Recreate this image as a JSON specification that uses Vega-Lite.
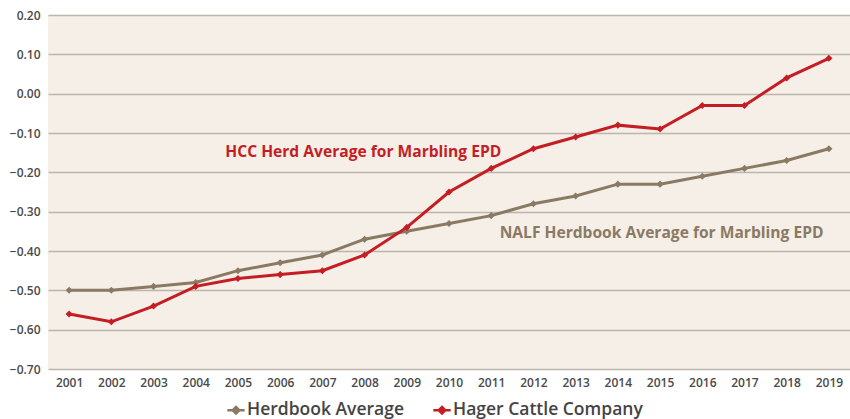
{
  "$schema": "https://vega.github.io/schema/vega-lite/v6.json",
  "width": 802,
  "height": 354,
  "autosize": {"type": "none"},
  "padding": {"left": 48, "top": 15, "right": 0, "bottom": 50},
  "background": "#ffffff",
  "config": {
    "view": {"fill": "#F5EFE8", "stroke": null},
    "font": "Open Sans"
  },
  "layer": [
    {
      "data": {
        "values": [
          {"year": 2001, "series": "Herdbook Average", "value": -0.50},
          {"year": 2002, "series": "Herdbook Average", "value": -0.50},
          {"year": 2003, "series": "Herdbook Average", "value": -0.49},
          {"year": 2004, "series": "Herdbook Average", "value": -0.48},
          {"year": 2005, "series": "Herdbook Average", "value": -0.45},
          {"year": 2006, "series": "Herdbook Average", "value": -0.43},
          {"year": 2007, "series": "Herdbook Average", "value": -0.41},
          {"year": 2008, "series": "Herdbook Average", "value": -0.37},
          {"year": 2009, "series": "Herdbook Average", "value": -0.35},
          {"year": 2010, "series": "Herdbook Average", "value": -0.33},
          {"year": 2011, "series": "Herdbook Average", "value": -0.31},
          {"year": 2012, "series": "Herdbook Average", "value": -0.28},
          {"year": 2013, "series": "Herdbook Average", "value": -0.26},
          {"year": 2014, "series": "Herdbook Average", "value": -0.23},
          {"year": 2015, "series": "Herdbook Average", "value": -0.23},
          {"year": 2016, "series": "Herdbook Average", "value": -0.21},
          {"year": 2017, "series": "Herdbook Average", "value": -0.19},
          {"year": 2018, "series": "Herdbook Average", "value": -0.17},
          {"year": 2019, "series": "Herdbook Average", "value": -0.14},
          {"year": 2001, "series": "Hager Cattle Company", "value": -0.56},
          {"year": 2002, "series": "Hager Cattle Company", "value": -0.58},
          {"year": 2003, "series": "Hager Cattle Company", "value": -0.54},
          {"year": 2004, "series": "Hager Cattle Company", "value": -0.49},
          {"year": 2005, "series": "Hager Cattle Company", "value": -0.47},
          {"year": 2006, "series": "Hager Cattle Company", "value": -0.46},
          {"year": 2007, "series": "Hager Cattle Company", "value": -0.45},
          {"year": 2008, "series": "Hager Cattle Company", "value": -0.41},
          {"year": 2009, "series": "Hager Cattle Company", "value": -0.34},
          {"year": 2010, "series": "Hager Cattle Company", "value": -0.25},
          {"year": 2011, "series": "Hager Cattle Company", "value": -0.19},
          {"year": 2012, "series": "Hager Cattle Company", "value": -0.14},
          {"year": 2013, "series": "Hager Cattle Company", "value": -0.11},
          {"year": 2014, "series": "Hager Cattle Company", "value": -0.08},
          {"year": 2015, "series": "Hager Cattle Company", "value": -0.09},
          {"year": 2016, "series": "Hager Cattle Company", "value": -0.03},
          {"year": 2017, "series": "Hager Cattle Company", "value": -0.03},
          {"year": 2018, "series": "Hager Cattle Company", "value": 0.04},
          {"year": 2019, "series": "Hager Cattle Company", "value": 0.09}
        ]
      },
      "mark": {"type": "line", "strokeWidth": 3, "point": {"shape": "diamond", "size": 50, "filled": true}},
      "encoding": {
        "x": {
          "field": "year", "type": "quantitative",
          "scale": {"domain": [2000.5, 2019.5], "nice": false, "zero": false},
          "axis": {
            "title": null, "values": [2001,2002,2003,2004,2005,2006,2007,2008,2009,2010,2011,2012,2013,2014,2015,2016,2017,2018,2019],
            "tickCount": 40,
            "format": "d", "grid": false, "domain": false, "ticks": false, "labelOverlap": false,
            "labelFontSize": 12, "labelFontWeight": 600, "labelColor": "#4a4a4a", "labelPadding": 8
          }
        },
        "y": {
          "field": "value", "type": "quantitative",
          "scale": {"domain": [-0.7, 0.2], "nice": false, "zero": false},
          "axis": {
            "title": null, "values": [-0.7,-0.6,-0.5,-0.4,-0.3,-0.2,-0.1,0,0.1,0.2],
            "tickCount": 20,
            "format": ".2f", "grid": true, "gridColor": "#BDB5AC", "gridWidth": 1.5,
            "domain": false, "ticks": false, "labelOverlap": false, "labelFlush": false,
            "labelFontSize": 12, "labelFontWeight": 600, "labelColor": "#4a4a4a", "labelPadding": 8
          }
        },
        "color": {
          "field": "series", "type": "nominal",
          "scale": {"domain": ["Herdbook Average", "Hager Cattle Company"], "range": ["#8A7A64", "#C41E24"]},
          "legend": {
            "title": null, "orient": "none", "direction": "horizontal",
            "legendX": 178, "legendY": 385,
            "labelFontSize": 17.5, "labelFontWeight": 600, "labelColor": "#444444", "labelFont": "Open Sans", "labelLimit": 400,
            "symbolType": "M-1,0H1M0,-0.38L0.38,0L0,0.38L-0.38,0Z",
            "symbolSize": 300, "symbolStrokeWidth": 2.5, "columnPadding": 24, "labelOffset": 1
          }
        }
      }
    },
    {
      "data": {
        "values": [
          {"year": 2004.7, "value": -0.148, "label": "HCC Herd Average for Marbling EPD", "series": "Hager Cattle Company"},
          {"year": 2011.2, "value": -0.353, "label": "NALF Herdbook Average for Marbling EPD", "series": "Herdbook Average"}
        ]
      },
      "mark": {"type": "text", "align": "left", "baseline": "middle", "fontSize": 15.6, "fontWeight": "bold"},
      "encoding": {
        "x": {"field": "year", "type": "quantitative"},
        "y": {"field": "value", "type": "quantitative"},
        "text": {"field": "label"},
        "color": {
          "field": "series", "type": "nominal",
          "scale": {"domain": ["Herdbook Average", "Hager Cattle Company"], "range": ["#8A7A64", "#C41E24"]},
          "legend": null
        }
      }
    }
  ]
}
